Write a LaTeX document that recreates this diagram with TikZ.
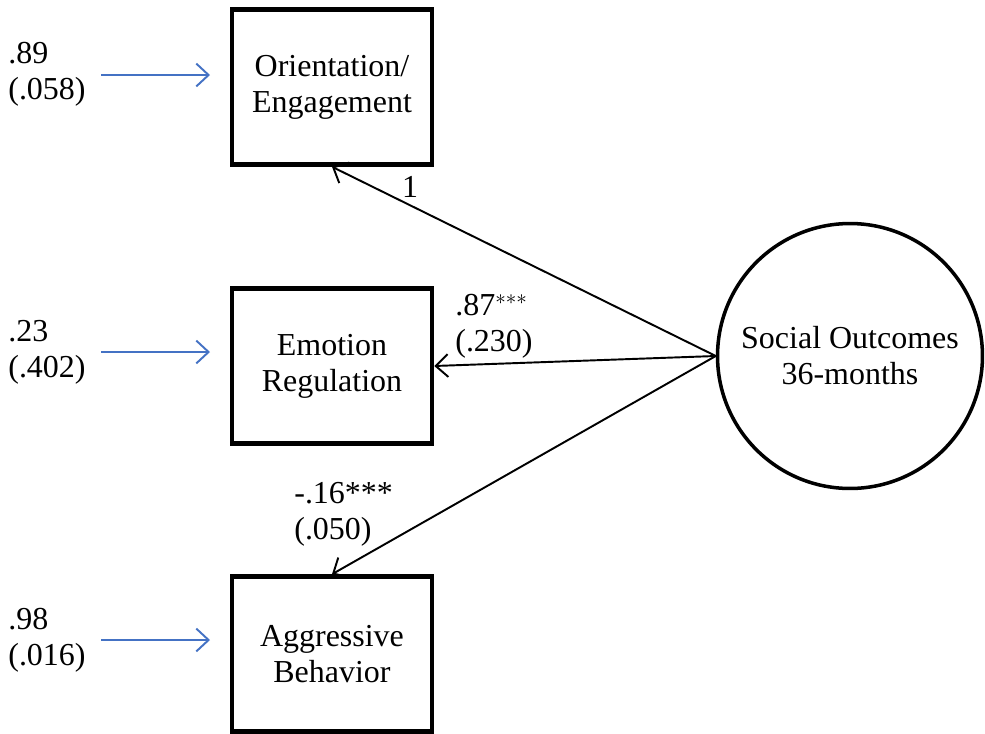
\documentclass[tikz,border=0pt]{standalone}
\usepackage{fontspec}
\setmainfont{Liberation Serif}
\usepackage{xcolor}
\usetikzlibrary{arrows.meta}
\definecolor{errblue}{RGB}{68,114,196}

\begin{document}
\begin{tikzpicture}[x=0.02cm,y=-0.02cm,
    font=\fontsize{18.2}{20.5}\selectfont,
    box/.style={draw,line width=2.6pt,minimum width=4cm,minimum height=3.1cm,align=center},
    latent/.style={draw,circle,line width=2pt,minimum size=5.3cm,inner sep=0pt,align=center},
    load/.style={line width=1.1pt,-{Straight Barb[length=7pt,width=13pt]}},
    err/.style={errblue,line width=1.1pt,-{Straight Barb[length=7pt,width=13pt]}},
    lab/.style={align=left,inner sep=0pt}]
    \useasboundingbox (0,0) rectangle (985,734);
    % indicators and factor
    \node[box] (1) at (332,87) {Orientation/\\Engagement};
    \node[box] (2) at (332,366) {Emotion\\Regulation};
    \node[box] (3) at (332,654) {Aggressive\\Behavior};
    \node[latent] (4) at (850,356) {Social Outcomes\\36-months};
    \draw[load] (4.west) to (1.south);
    \draw[load] (4.west) to (2.east);
    \draw[load] (4.west) to (3.north);
    \node[lab] (l1) at (410,187) {1};
    \node[lab,anchor=west] (l2) at (455,326) {.87$^{***}$\\(.230)};
    \node[lab,anchor=west] (l3) at (294,514) {-.16***\\(.050)};
    % residuals
    \node[lab,anchor=west] (r1) at (8,74) {.89\\(.058)};
    \node[lab,anchor=west] (r2) at (8,352) {.23\\(.402)};
    \node[lab,anchor=west] (r3) at (8,640) {.98\\(.016)};
    \coordinate (e1) at (101,75);
    \coordinate (e2) at (101,352);
    \coordinate (e3) at (101,640);
    \coordinate (f1) at (210,75);
    \coordinate (f2) at (210,352);
    \coordinate (f3) at (210,640);
    \draw[err] (e1) to (f1);
    \draw[err] (e2) to (f2);
    \draw[err] (e3) to (f3);
\end{tikzpicture}
\end{document}
